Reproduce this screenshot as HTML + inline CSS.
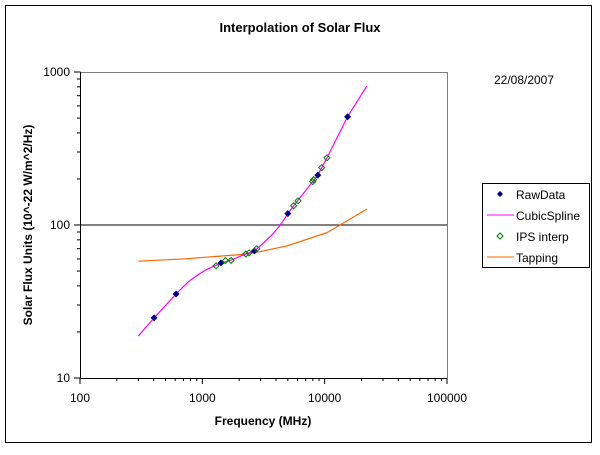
<!DOCTYPE html>
<html><head><meta charset="utf-8"><style>
body{margin:0;background:#fff}
svg text{font-family:"Liberation Sans",Arial,sans-serif;fill:#000}
</style></head><body>
<svg id="c" width="600" height="450" xmlns="http://www.w3.org/2000/svg">
<rect x="5.5" y="5.5" width="586" height="437" fill="#fff" stroke="#000"/>
<text x="300" y="32" text-anchor="middle" font-size="13" font-weight="bold">Interpolation of Solar Flux</text>
<text x="524" y="84" text-anchor="middle" font-size="12">22/08/2007</text>
<text x="263" y="425" text-anchor="middle" font-size="12" font-weight="bold">Frequency (MHz)</text>
<text transform="translate(32,225) rotate(-90)" text-anchor="middle" font-size="12" font-weight="bold">Solar Flux Units (10^-22 W/m^2/Hz)</text>
<g id="plot"></g>
<g>
<rect x="482.5" y="183.5" width="107" height="84" fill="#fff" stroke="#000"/>
<path d="M497,194 l3,-3 l3,3 l-3,3z" fill="#000080"/>
<text x="516" y="199" font-size="12">RawData</text>
<line x1="487" y1="215" x2="514" y2="215" stroke="#ff00ff"/>
<text x="516" y="220" font-size="12">CubicSpline</text>
<path d="M497,236 l3,-3 l3,3 l-3,3z" fill="none" stroke="#008000"/>
<text x="516" y="241" font-size="12">IPS interp</text>
<line x1="487" y1="257" x2="514" y2="257" stroke="#ff6600"/>
<text x="516" y="262" font-size="12">Tapping</text>
</g>
</svg>
<script>
const rawFreq=[403,610,1420,2660,5000,8790,15400];
const rawFlux=[24.7,35.4,56.5,67.6,118.6,212,510];
const ipsFreq=[1295,1543,1717,2265,2410,2786,5580,6055,7980,8130,9460,10450];
const ipsFlux=[54.1,58.5,58.7,64.6,65.7,70,133.6,144,192,198,237,275];
const splineFreq=[300,403,610,700,794,958,1100,1295,1420,1717,2265,2660,3200,3700,4300,5000,5580,8790,10450,15400,22100];
const splineFlux=[18.8,24.7,35.4,39.5,43.5,48.3,51.5,54.5,56.5,59,64.6,67.6,77,86,99,118.6,133.6,212,275,510,809];
const tapFreq=[300,700,2030,2786,4900,10400,13370,22100];
const tapFlux=[58,60,64,66.3,73,89,100,127];
const xTicks=[100,1000,10000,100000];
const yTicks=[10,100,1000];
const X0=80,X1=447,Y0=378,Y1=72;
function xs(v){return X0+(Math.log10(v)-2)/3*(X1-X0);}
function ys(v){return Y0-(Math.log10(v)-1)/2*(Y0-Y1);}
const NS='http://www.w3.org/2000/svg';
const g=document.getElementById('plot');
function mk(t,a){const e=document.createElementNS(NS,t);for(const k in a)e.setAttribute(k,a[k]);g.appendChild(e);return e;}
let e;
e=mk('path',{d:`M${X0},${Y1+.5}H${X1+.5}V${Y0}`,fill:'none',stroke:'#808080'});


e=mk('line',{x1:X0,x2:X1,y1:ys(100),y2:ys(100),stroke:'#000'});


e=mk('path',{d:`M${X0+.5},${Y1}V${Y0+.5}H${X1}`,fill:'none',stroke:'#000'});


for(let d=0;d<3;d++){for(let m=1;m<10;m++){
  const xv=Math.pow(10,d+2)*m, yv=Math.pow(10,d+1)*m;
  e=mk('line',{x1:xs(xv),x2:xs(xv),y1:Y0,y2:Y0+(m==1?6:3),stroke:'#000'});
  
  
  if(d<2){e=mk('line',{x1:X0+.5,x2:X0-(m==1?6:3),y1:ys(yv),y2:ys(yv),stroke:'#000'});
  
  }
}}
e=mk('line',{x1:X1,x2:X1,y1:Y0,y2:Y0+6,stroke:'#000'});


e=mk('line',{x1:X0+.5,x2:X0-6,y1:Y1,y2:Y1,stroke:'#000'});


xTicks.forEach(v=>{e=mk('text',{x:xs(v),y:Y0+24,'text-anchor':'middle','font-size':12});e.textContent=v;

});
yTicks.forEach(v=>{e=mk('text',{x:X0-10,y:ys(v)+4,'text-anchor':'end','font-size':12});e.textContent=v;

});
function line(fx,fy,col,name){e=mk('polyline',{points:fx.map((f,i)=>xs(f)+','+ys(fy[i])).join(' '),fill:'none',stroke:col,'stroke-width':1.2,'stroke-linejoin':'round'});

}
line(tapFreq,tapFlux,'#ff6600','tapping-line');
line(splineFreq,splineFlux,'#ff00ff','cubicspline-line');
rawFreq.forEach((f,i)=>{const x=xs(f),y=ys(rawFlux[i]);
e=mk('path',{d:`M${x-3.5},${y} L${x},${y-3.5} L${x+3.5},${y} L${x},${y+3.5}Z`,fill:'#000080'});

});
ipsFreq.forEach((f,i)=>{const x=xs(f),y=ys(ipsFlux[i]);
e=mk('path',{d:`M${x-3},${y} L${x},${y-3} L${x+3},${y} L${x},${y+3}Z`,fill:'none',stroke:'#008000'});

});
</script>
</body></html>
